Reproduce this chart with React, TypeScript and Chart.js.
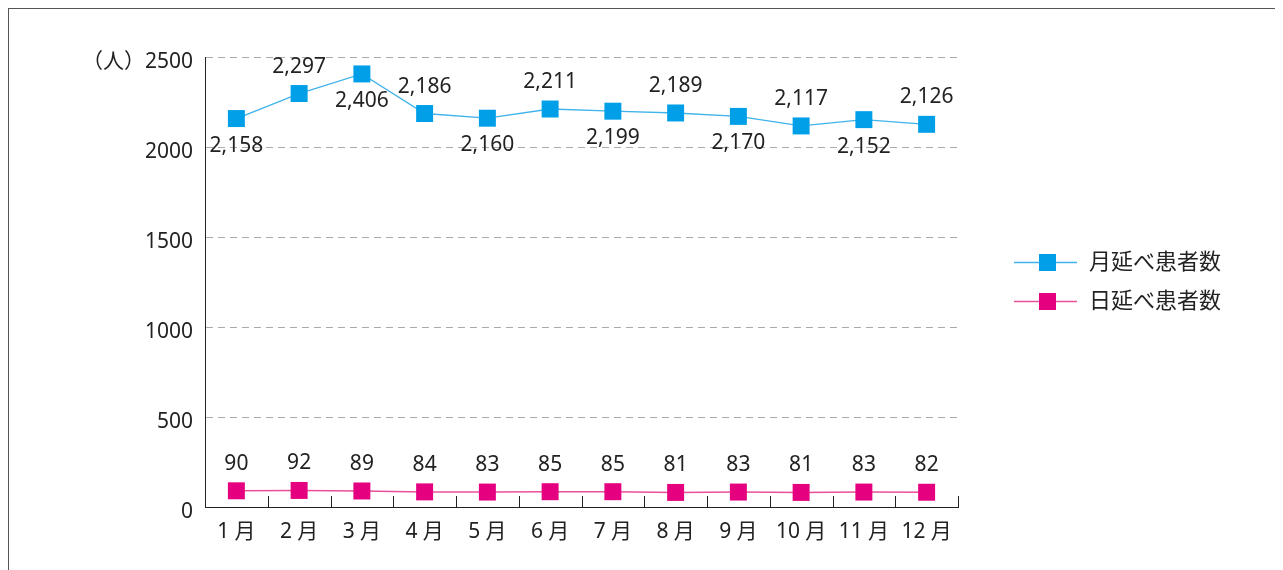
import { useEffect, useRef } from 'react';
import { Chart, registerables } from 'chart.js';

Chart.register(...registerables);

const categories = ['1 月', '2 月', '3 月', '4 月', '5 月', '6 月', '7 月', '8 月', '9 月', '10 月', '11 月', '12 月'];
const monthlyTotal = [2158, 2297, 2406, 2186, 2160, 2211, 2199, 2189, 2170, 2117, 2152, 2126];
const dailyTotal = [90, 92, 89, 84, 83, 85, 85, 81, 83, 81, 83, 82];
const seriesNames = ['月延べ患者数', '日延べ患者数'];
const yMin = 0;
const yMax = 2500;
const yStep = 500;
const unitLabel = '（人）';

const FONT = "'Noto Sans', 'Noto Sans CJK JP', sans-serif";
const TEXT = '#222';

const markerColors = ['#009fe8', '#e4007f'];
const lineColors = ['#3fb3ea', '#e9509a'];

const dataLabelPlugin = {
  id: 'dataLabels',
  afterDatasetsDraw(chart: any) {
    const ctx = chart.ctx;
    ctx.save();
    ctx.font = `21px ${FONT}`;
    ctx.fillStyle = TEXT;
    ctx.textAlign = 'center';
    ctx.textBaseline = 'middle';
    chart.data.datasets.forEach((ds: any, di: number) => {
      const meta = chart.getDatasetMeta(di);
      meta.data.forEach((pt: any, i: number) => {
        const v = ds.data[i] as number;
        const above = di === 1 || i % 2 === 1;
        const y = pt.y + (above ? -27 : 27);
        ctx.fillText(v.toLocaleString('en-US'), pt.x, y);
      });
    });
    ctx.restore();
  },
};

const innerTicksPlugin = {
  id: 'innerTicks',
  afterDraw(chart: any) {
    const ctx = chart.ctx;
    const xs = chart.scales.x;
    const area = chart.chartArea;
    const n = chart.data.labels.length;
    const half = (xs.getPixelForValue(1) - xs.getPixelForValue(0)) / 2;
    ctx.save();
    ctx.strokeStyle = TEXT;
    ctx.lineWidth = 1;
    ctx.beginPath();
    for (let i = 1; i <= n; i++) {
      const x = Math.round(xs.getPixelForValue(i - 1) + half) + 0.5;
      ctx.moveTo(x, area.bottom);
      ctx.lineTo(x, area.bottom - 11);
    }
    ctx.stroke();
    ctx.restore();
  },
};

const legendPlugin = {
  id: 'sideLegend',
  afterDraw(chart: any) {
    const ctx = chart.ctx;
    const area = chart.chartArea;
    const midY = (area.top + area.bottom) / 2;
    ctx.save();
    chart.data.datasets.forEach((ds: any, i: number) => {
      const y = Math.round(midY + (i === 0 ? -20 : 19)) + 0.5;
      const x0 = area.right + 56;
      ctx.strokeStyle = ds.borderColor;
      ctx.lineWidth = 1.5;
      ctx.beginPath();
      ctx.moveTo(x0, y);
      ctx.lineTo(x0 + 63, y);
      ctx.stroke();
      ctx.fillStyle = ds.pointBackgroundColor;
      ctx.fillRect(x0 + 25, y - 8.5, 17, 17);
      ctx.fillStyle = TEXT;
      ctx.font = `22px ${FONT}`;
      ctx.textAlign = 'left';
      ctx.textBaseline = 'middle';
      ctx.fillText(ds.label, x0 + 75, y);
    });
    ctx.restore();
  },
};

export default function App() {
  const ref = useRef<HTMLCanvasElement | null>(null);

  useEffect(() => {
    document.documentElement.style.overflow = 'hidden';
    document.body.style.overflow = 'hidden';
    if (!ref.current) return;
    const chart = new Chart(ref.current, {
      type: 'line',
      data: {
        labels: categories,
        datasets: [
          {
            label: seriesNames[0],
            data: monthlyTotal,
            borderColor: lineColors[0],
            borderWidth: 1.3,
            pointStyle: 'rect',
            pointRadius: 12,
            pointBackgroundColor: markerColors[0],
            pointBorderWidth: 0,
            pointBorderColor: markerColors[0],
            tension: 0,
          },
          {
            label: seriesNames[1],
            data: dailyTotal,
            borderColor: lineColors[1],
            borderWidth: 1.5,
            pointStyle: 'rect',
            pointRadius: 12,
            pointBackgroundColor: markerColors[1],
            pointBorderWidth: 0,
            pointBorderColor: markerColors[1],
            tension: 0,
          },
        ],
      },
      options: {
        responsive: false,
        animation: false,
        layout: { padding: { left: 0, top: 48, right: 325, bottom: 0 } },
        plugins: {
          legend: { display: false },
          tooltip: { enabled: false },
          title: { display: false },
        },
        scales: {
          x: {
            type: 'category',
            offset: true,
            grid: { display: false },
            border: { display: true, color: TEXT, width: 1 },
            ticks: {
              color: TEXT,
              font: { family: FONT, size: 21 },
              padding: 4,
              maxRotation: 0,
              autoSkip: false,
            },
            afterFit(scale: any) {
              scale.height = 63;
            },
          },
          y: {
            min: yMin,
            max: yMax,
            grid: {
              drawTicks: false,
              color: (c: any) => (c.tick && c.tick.value === 0 ? 'rgba(0,0,0,0)' : '#aaaaaa'),
              lineWidth: 1,
            },
            border: { display: true, color: TEXT, width: 1, dash: [7, 5] },
            ticks: {
              stepSize: yStep,
              color: TEXT,
              font: { family: FONT, size: 21 },
              padding: 12,
              labelOffset: 5,
              callback: (v: any) => (v === yMax ? unitLabel + String(v) : String(v)),
            },
            afterFit(scale: any) {
              scale.width = 196;
            },
          },
        },
      },
      plugins: [innerTicksPlugin, dataLabelPlugin, legendPlugin],
    });
    return () => chart.destroy();
  }, []);

  return (
    <div
      style={{
        borderTop: '1px solid #555',
        borderLeft: '1px solid #555',
        width: 1274,
        height: 561,
        background: '#fff',
      }}
    >
      <canvas ref={ref} width={1274} height={561} style={{ display: 'block' }} />
    </div>
  );
}
